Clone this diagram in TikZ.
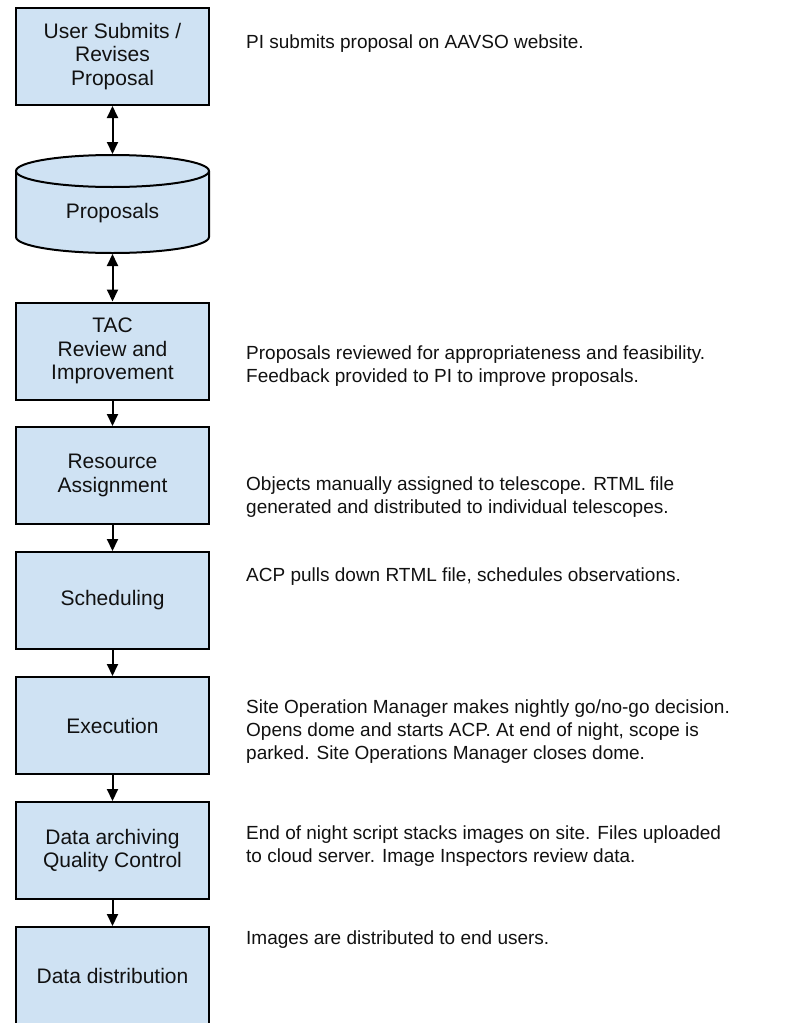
\documentclass[tikz,border=0pt]{standalone}
\usepackage{fontspec}
\setmainfont{Liberation Sans}
\usetikzlibrary{arrows.meta}
\definecolor{boxfill}{HTML}{CFE2F3}
\definecolor{txt}{HTML}{111111}
\begin{document}
\begin{tikzpicture}[x=1pt,y=-1pt,
  stepbox/.style={draw=black, line width=2pt, fill=boxfill, minimum width=193pt, minimum height=97pt, inner sep=0pt, align=center, text=txt, font=\fontsize{21}{23.5}\selectfont},
  desc/.style={anchor=north west, inner sep=0pt, align=left, text=txt, font=\fontsize{19}{23}\selectfont},
  arr/.style={line width=2pt, -{Triangle[width=11pt,length=12pt]}},
  darr/.style={line width=2pt, {Triangle[width=11pt,length=12pt]}-{Triangle[width=11pt,length=12pt]}}]
\useasboundingbox (0,0) rectangle (805,1023);

% boxes
\node[stepbox] (user) at (112.5,56.5) {User Submits /\\Revises\\Proposal};
\node[stepbox] (tac) at (112.5,351) {TAC\\Review and\\Improvement};
\node[stepbox] (res) at (112.5,475.5) {Resource\\Assignment};
\node[stepbox] (sched) at (112.5,600.5) {Scheduling};
\node[stepbox] (exec) at (112.5,725.5) {Execution};
\node[stepbox] (arch) at (112.5,850.5) {Data archiving\\Quality Control};
\node[stepbox] (dist) at (112.5,975.5) {Data distribution};

% cylinder (database)
\fill[boxfill] (16,171) -- (16,237) arc[start angle=180, end angle=0, x radius=96.5, y radius=16] -- (209,171) -- cycle;
\draw[line width=2pt] (16,171) -- (16,237) arc[start angle=180, end angle=0, x radius=96.5, y radius=16] -- (209,171);
\draw[line width=2pt, fill=boxfill] (112.5,171) ellipse[x radius=96.5, y radius=16];
\node[text=txt, font=\fontsize{21}{23.5}\selectfont, inner sep=0pt] (prop) at (112.5,213) {Proposals};
\coordinate (cyltop) at (112.5,154);
\coordinate (cylbot) at (112.5,254);

% connectors
\draw[darr] (user) -- (cyltop);
\draw[darr] (cylbot) -- (tac);
\draw[arr] (tac) -- (res);
\draw[arr] (res) -- (sched);
\draw[arr] (sched) -- (exec);
\draw[arr] (exec) -- (arch);
\draw[arr] (arch) -- (dist);

% descriptions
\node[desc] (d1) at (246,35) {PI submits proposal on AAVSO website.};
\node[desc] (d2) at (246,346) {Proposals reviewed for appropriateness and feasibility.\\Feedback provided to PI to improve proposals.};
\node[desc] (d3) at (246,477) {Objects manually assigned to telescope. RTML file\\generated and distributed to individual telescopes.};
\node[desc] (d4) at (246,568) {ACP pulls down RTML file, schedules observations.};
\node[desc] (d5) at (246,700) {Site Operation Manager makes nightly go/no-go decision.\\Opens dome and starts ACP. At end of night, scope is\\parked. Site Operations Manager closes dome.};
\node[desc] (d6) at (246,826) {End of night script stacks images on site. Files uploaded\\to cloud server. Image Inspectors review data.};
\node[desc] (d7) at (246,931) {Images are distributed to end users.};
\end{tikzpicture}
\end{document}
